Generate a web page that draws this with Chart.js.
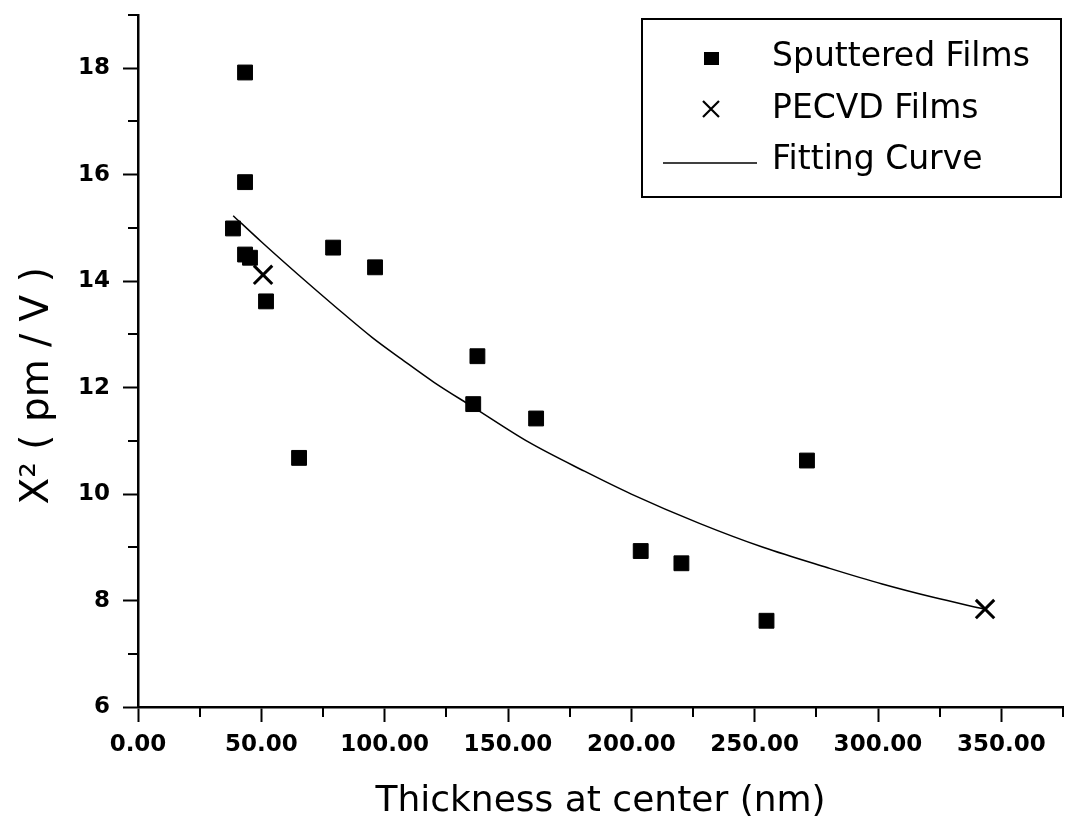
<!DOCTYPE html>
<html>
<head>
<meta charset="utf-8">
<script src="https://cdn.jsdelivr.net/npm/chart.js@4.4.1/dist/chart.umd.min.js"></script>
<style>
  html, body { margin: 0; padding: 0; background: #ffffff; }
  #wrap { width: 1068px; height: 821px; position: relative; }
</style>
</head>
<body>
<div id="wrap"><canvas id="c" width="1068" height="821"></canvas></div>
<script>
// ---- data ----
const sputteredX = [43.4, 43.4, 38.5, 43.4, 45.4, 51.9, 65.3, 79.1, 96.1, 137.6, 135.9, 161.4, 203.8, 220.3, 254.8, 271.2];
const sputteredY = [17.92, 15.86, 14.99, 14.50, 14.44, 13.62, 10.68, 14.63, 14.26, 12.59, 11.69, 11.42, 8.93, 8.70, 7.62, 10.63];
const pecvdX = [50.7, 343.4];
const pecvdY = [14.12, 7.84];
const fitX = [38.6, 50, 65, 80, 95, 107, 120, 136, 158.6, 181, 200, 227.6, 253.4, 279.3, 301.7, 322.4, 343];
const fitY = [15.23, 14.74, 14.12, 13.52, 12.94, 12.53, 12.1, 11.63, 10.97, 10.43, 10.0, 9.45, 9.0, 8.62, 8.31, 8.06, 7.84];
const xTickValues = [0, 50, 100, 150, 200, 250, 300, 350];
const xTickLabels = ['0.00', '50.00', '100.00', '150.00', '200.00', '250.00', '300.00', '350.00'];
const xMinorTicks = [25, 75, 125, 175, 225, 275, 325, 375];
const yTickValues = [6, 8, 10, 12, 14, 16, 18];
const yTickLabels = ['6', '8', '10', '12', '14', '16', '18'];
const yMinorTicks = [7, 9, 11, 13, 15, 17, 19];
const seriesNames = ['Sputtered Films', 'PECVD Films', 'Fitting Curve'];
const xTitle = 'Thickness at center (nm)';
const yTitle = 'X\u00B2 ( pm / V )';

const toPts = (xs, ys) => xs.map((x, i) => ({ x: x, y: ys[i] }));
const FONT = "'DejaVu Sans', Verdana, sans-serif";

const minorTickPlugin = {
  id: 'minorTicks',
  afterDraw(chart) {
    const ctx = chart.ctx;
    const xs = chart.scales.x, ys = chart.scales.y;
    ctx.save();
    ctx.strokeStyle = '#000';
    ctx.lineWidth = 2;
    ctx.beginPath();
    xMinorTicks.forEach(v => {
      const px = Math.round(xs.getPixelForValue(v));
      ctx.moveTo(px, xs.top);
      ctx.lineTo(px, xs.top + 10);
    });
    yMinorTicks.forEach(v => {
      const py = Math.round(ys.getPixelForValue(v));
      ctx.moveTo(ys.right, py);
      ctx.lineTo(ys.right - 10, py);
    });
    ctx.stroke();
    ctx.restore();
  }
};

const legendPlugin = {
  id: 'boxLegend',
  afterDraw(chart) {
    const ctx = chart.ctx;
    const ds = chart.data.datasets;
    const bx = 642, by = 19, bw = 419, bh = 178;
    const rows = [57, 109, 160];
    ctx.save();
    ctx.strokeStyle = '#000';
    ctx.lineWidth = 2;
    ctx.strokeRect(bx, by, bw, bh);
    ctx.fillStyle = '#000';
    ctx.font = '33px ' + FONT;
    ctx.textBaseline = 'middle';
    ctx.textAlign = 'left';
    ds.forEach((d, i) => {
      const y = rows[i];
      const mx = 711;
      if (d.showLine) {
        ctx.lineWidth = 1.5;
        ctx.beginPath();
        ctx.moveTo(663, y + 3);
        ctx.lineTo(757, y + 3);
        ctx.stroke();
      } else if (d.pointStyle === 'rect') {
        ctx.fillRect(mx - 7, y - 5, 15, 13);
      } else {
        ctx.lineWidth = 2.2;
        ctx.beginPath();
        ctx.moveTo(mx - 8, y - 8); ctx.lineTo(mx + 8, y + 8);
        ctx.moveTo(mx + 8, y - 8); ctx.lineTo(mx - 8, y + 8);
        ctx.stroke();
      }
      ctx.fillText(d.label, 772, y);
    });
    ctx.restore();
  }
};

new Chart(document.getElementById('c'), {
  type: 'scatter',
  data: {
    datasets: [
      {
        label: seriesNames[0],
        data: toPts(sputteredX, sputteredY),
        pointStyle: 'rect',
        pointRadius: 10.5,
        pointHoverRadius: 10.5,
        backgroundColor: '#000',
        borderColor: '#000',
        borderWidth: 1,
        showLine: false,
        order: 1
      },
      {
        label: seriesNames[1],
        data: toPts(pecvdX, pecvdY),
        pointStyle: 'crossRot',
        pointRadius: 13,
        pointHoverRadius: 13,
        backgroundColor: '#000',
        borderColor: '#000',
        borderWidth: 3,
        showLine: false,
        order: 0
      },
      {
        label: seriesNames[2],
        data: toPts(fitX, fitY),
        showLine: true,
        pointRadius: 0,
        borderColor: '#000',
        borderWidth: 1.5,
        cubicInterpolationMode: 'monotone',
        fill: false,
        order: 2
      }
    ]
  },
  options: {
    responsive: false,
    animation: false,
    devicePixelRatio: 1,
    layout: { autoPadding: false, padding: { top: 15, right: 5, left: 0, bottom: 0 } },
    plugins: { legend: { display: false }, tooltip: { enabled: false } },
    scales: {
      x: {
        type: 'linear',
        min: 0,
        max: 375,
        afterBuildTicks: s => { s.ticks = xTickValues.map(v => ({ value: v })); },
        afterFit: s => { s.height = 114; s.paddingLeft = 0; s.paddingRight = 0; },
        ticks: {
          callback: v => xTickLabels[xTickValues.indexOf(v)],
          font: { family: FONT, size: 23, weight: 'bold' },
          color: '#000',
          padding: 9,
          maxRotation: 0,
          autoSkip: false
        },
        grid: { drawOnChartArea: false, drawTicks: true, tickLength: 15, tickWidth: 2, tickColor: '#000' },
        border: { display: true, color: '#000', width: 2.5 },
        title: { display: true, text: xTitle, color: '#000', font: { family: FONT, size: 36, lineHeight: 1.0 }, padding: { top: 0, bottom: 1.5 } }
      },
      y: {
        type: 'linear',
        min: 6,
        max: 19,
        afterBuildTicks: s => { s.ticks = yTickValues.map(v => ({ value: v })); },
        afterFit: s => { s.width = 138; s.paddingTop = 0; s.paddingBottom = 0; },
        ticks: {
          callback: v => yTickLabels[yTickValues.indexOf(v)],
          font: { family: FONT, size: 23, weight: 'bold' },
          color: '#000',
          padding: 13,
          autoSkip: false
        },
        grid: { drawOnChartArea: false, drawTicks: true, tickLength: 15, tickWidth: 2, tickColor: '#000' },
        border: { display: true, color: '#000', width: 2.5 },
        title: { display: true, text: yTitle + '    ', color: '#000', font: { family: FONT, size: 39, lineHeight: 1.2 }, padding: { top: 14, bottom: 0 } }
      }
    }
  },
  plugins: [minorTickPlugin, legendPlugin]
});
</script>
</body>
</html>
